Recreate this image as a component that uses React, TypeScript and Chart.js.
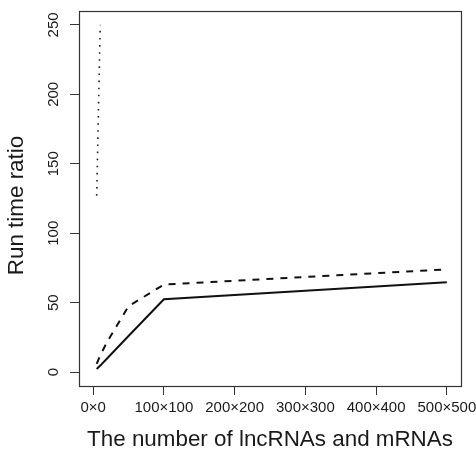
import React, { useEffect, useRef } from "react";
import { Chart, registerables } from "chart.js";

Chart.register(...registerables);

const solidX = [5, 10, 20, 50, 100, 500];
const solidY = [2.3, 4.7, 10, 26, 52.5, 64.7];
const dashedX = [5, 10, 20, 50, 100, 500];
const dashedY = [6, 12, 22, 47.5, 63, 74];
const dottedX = [5, 10];
const dottedY = [127, 250];
const xTickValues = [0, 100, 200, 300, 400, 500];
const yTickValues = [0, 50, 100, 150, 200, 250];
const xTitle = "The number of lncRNAs and mRNAs";
const yTitle = "Run time ratio";

const FONT = "'Liberation Sans', Arial, Helvetica, sans-serif";
const INK = "#1a1a1a";
const AXIS = "#333333";

const toPoints = (xs: number[], ys: number[]) => xs.map((x, i) => ({ x, y: ys[i] }));

const boxPlugin = {
  id: "rbox",
  afterDraw(chart: any) {
    const { ctx, chartArea } = chart;
    ctx.save();
    ctx.strokeStyle = AXIS;
    ctx.lineWidth = 1.2;
    ctx.strokeRect(
      Math.round(chartArea.left) + 0.5,
      Math.round(chartArea.top) + 0.5,
      Math.round(chartArea.right - chartArea.left),
      Math.round(chartArea.bottom - chartArea.top)
    );
    // y-axis title, placed like R's ylab (slightly below the plot centre)
    const cy = (chartArea.top + chartArea.bottom) / 2 + 7;
    ctx.translate(17.2, cy);
    ctx.rotate(-Math.PI / 2);
    ctx.fillStyle = INK;
    ctx.font = `22.4px ${FONT}`;
    ctx.textAlign = "center";
    ctx.textBaseline = "middle";
    ctx.fillText(yTitle, 0, 0);
    ctx.restore();
  },
};

export default function App() {
  const ref = useRef<HTMLCanvasElement | null>(null);
  useEffect(() => {
    if (!ref.current) return;
    const chart = new Chart(ref.current, {
      type: "line",
      data: {
        datasets: [
          {
            label: "solid",
            data: toPoints(solidX, solidY),
            borderColor: "#111",
            borderWidth: 2,
            pointRadius: 0,
            tension: 0,
            fill: false,
          },
          {
            label: "dashed",
            data: toPoints(dashedX, dashedY),
            borderColor: "#111",
            borderWidth: 2,
            borderDash: [7, 7],
            pointRadius: 0,
            tension: 0,
            fill: false,
          },
          {
            label: "dotted",
            data: toPoints(dottedX, dottedY),
            borderColor: "#222",
            borderWidth: 1.6,
            borderDash: [1.6, 5.5],
            pointRadius: 0,
            tension: 0,
            fill: false,
          },
        ],
      },
      options: {
        animation: false,
        responsive: true,
        maintainAspectRatio: false,
        layout: { padding: { left: 0, top: 11, right: 15, bottom: 0 } },
        plugins: { legend: { display: false }, tooltip: { enabled: false } },
        scales: {
          x: {
            type: "linear",
            min: -20,
            max: 520,
            afterBuildTicks: (s: any) => {
              s.ticks = xTickValues.map((v) => ({ value: v }));
            },
            afterFit: (s: any) => {
              s.height = 65;
              s.paddingLeft = 0;
              s.paddingRight = 0;
            },
            grid: {
              drawOnChartArea: false,
              drawTicks: true,
              tickLength: 9,
              color: AXIS,
              lineWidth: 1,
            },
            border: { display: false },
            ticks: {
              autoSkip: false,
              maxRotation: 0,
              minRotation: 0,
              padding: 4,
              color: INK,
              font: { family: FONT, size: 15 },
              callback: (v: any) => `${v}×${v}`,
            },
            title: {
              display: true,
              text: xTitle,
              color: INK,
              font: { family: FONT, size: 22.4, lineHeight: 1 },
              padding: { top: 0, bottom: 0 },
            },
          },
          y: {
            type: "linear",
            min: -10,
            max: 260,
            afterBuildTicks: (s: any) => {
              s.ticks = yTickValues.map((v) => ({ value: v }));
            },
            afterFit: (s: any) => {
              s.width = 79;
              s.paddingTop = 0;
              s.paddingBottom = 0;
            },
            grid: {
              drawOnChartArea: false,
              drawTicks: true,
              tickLength: 9,
              color: AXIS,
              lineWidth: 1,
            },
            border: { display: false },
            ticks: {
              autoSkip: false,
              minRotation: 90,
              maxRotation: 90,
              crossAlign: "center",
              padding: 4,
              color: INK,
              font: { family: FONT, size: 15 },
            },
            title: { display: false, text: yTitle },
          },
        },
      },
      plugins: [boxPlugin],
    });
    return () => chart.destroy();
  }, []);
  return (
    <div style={{ position: "absolute", left: 0, top: 0, width: 476, height: 451, background: "#fff" }}>
      <canvas ref={ref} />
    </div>
  );
}
